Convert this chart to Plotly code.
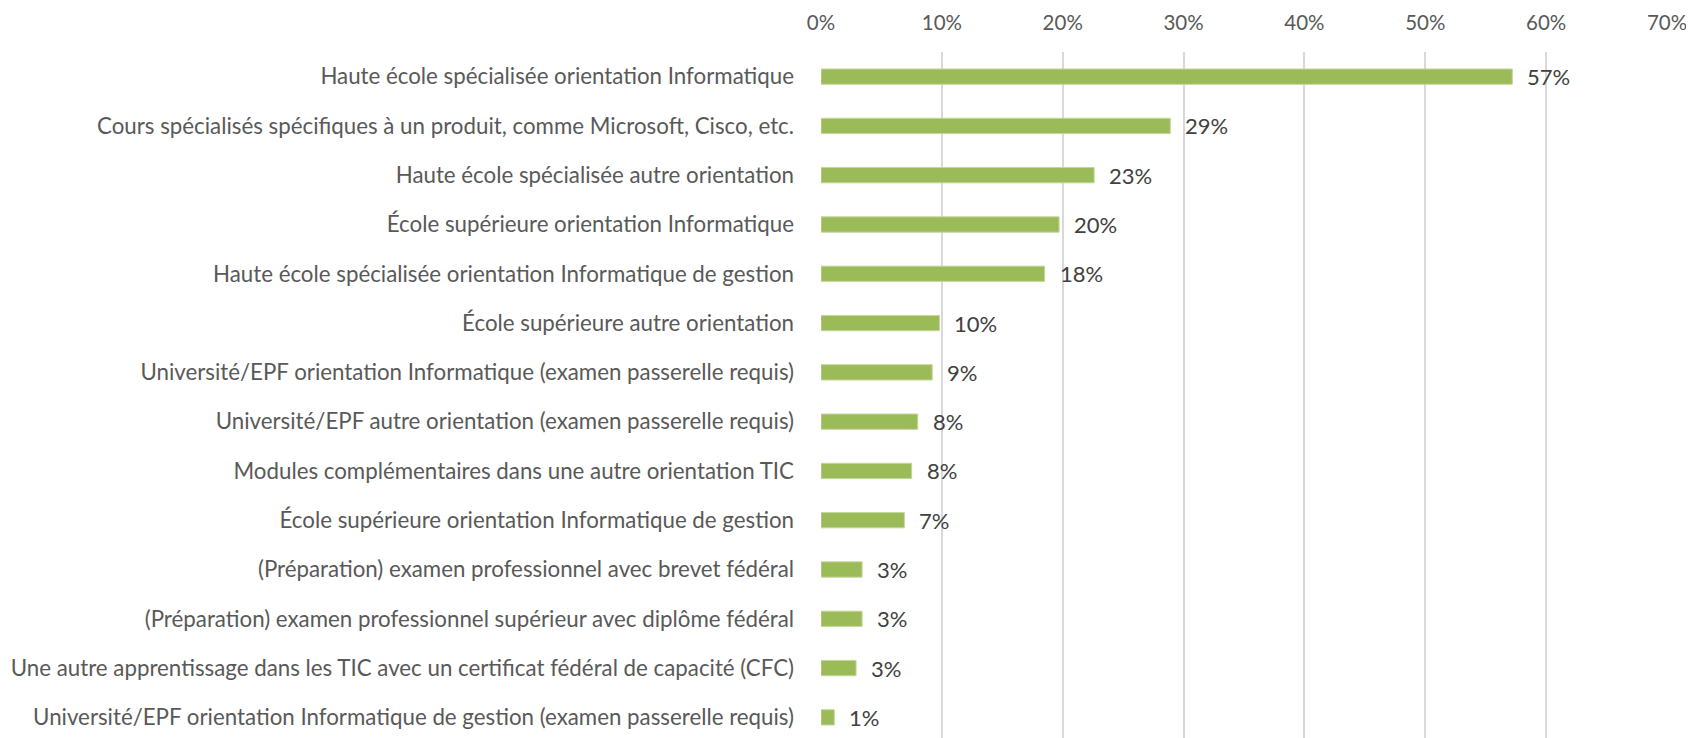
import plotly.graph_objects as go

categories = [
    "Haute école spécialisée orientation Informatique",
    "Cours spécialisés spécifiques à un produit, comme Microsoft, Cisco, etc.",
    "Haute école spécialisée autre orientation",
    "École supérieure orientation Informatique",
    "Haute école spécialisée orientation Informatique de gestion",
    "École supérieure autre orientation",
    "Université/EPF orientation Informatique (examen passerelle requis)",
    "Université/EPF autre orientation (examen passerelle requis)",
    "Modules complémentaires dans une autre orientation TIC",
    "École supérieure orientation Informatique de gestion",
    "(Préparation) examen professionnel avec brevet fédéral",
    "(Préparation) examen professionnel supérieur avec diplôme fédéral",
    "Une autre apprentissage dans les TIC avec un certificat fédéral de capacité (CFC)",
    "Université/EPF orientation Informatique de gestion (examen passerelle requis)",
]
values = [57.2, 28.9, 22.6, 19.7, 18.5, 9.8, 9.2, 8.0, 7.5, 6.9, 3.4, 3.4, 2.9, 1.1]
value_labels = ["57%", "29%", "23%", "20%", "18%", "10%", "9%", "8%", "8%", "7%", "3%", "3%", "3%", "1%"]
tick_vals = [0, 10, 20, 30, 40, 50, 60, 70]
tick_text = ["0%", "10%", "20%", "30%", "40%", "50%", "60%", "70%"]

FONT = "Lato"

fig = go.Figure()
fig.add_trace(go.Bar(
    x=values, y=categories, orientation="h",
    marker=dict(color="#9BBB59", line=dict(color="#C3D69B", width=1)),
    width=0.31,
    hoverinfo="x+y",
))

for v, lab, cat in zip(values, value_labels, categories):
    fig.add_annotation(x=v, y=cat, text=lab, showarrow=False, xanchor="left",
                       xshift=13, font=dict(family=FONT, size=22, color="#404040"))

fig.update_layout(
    width=1694, height=738,
    margin=dict(l=813, r=35, t=44, b=4),
    plot_bgcolor="white", paper_bgcolor="white",
    showlegend=False,
    font=dict(family=FONT, size=20, color="#595959"),
    xaxis=dict(
        side="top", range=[0, 70], tickvals=tick_vals, ticktext=tick_text,
        showgrid=True, gridcolor="#D9D9D9", gridwidth=2, zeroline=False,
        showline=False, ticks="", ticklabelstandoff=17, automargin=False,
        tickfont=dict(family=FONT, size=20.5, color="#595959"),
    ),
    yaxis=dict(
        autorange="reversed", showgrid=False, zeroline=False, showline=False,
        ticks="", ticklabelstandoff=26, automargin=False,
        tickfont=dict(family=FONT, size=22.3, color="#595959"),
    ),
)

fig.write_html("out.html")
